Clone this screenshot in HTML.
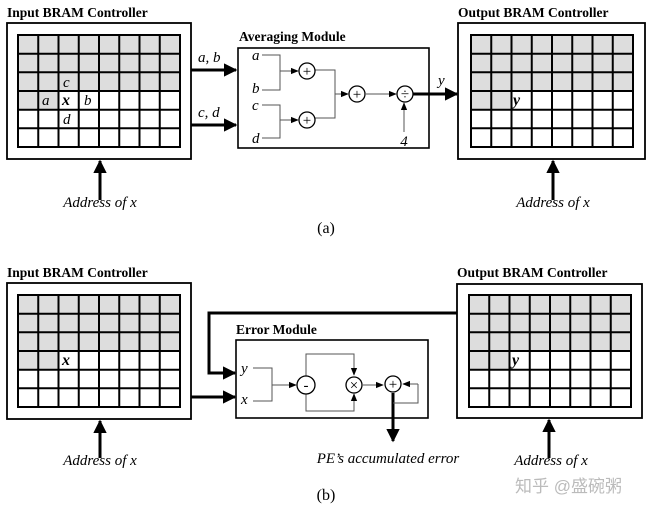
<!DOCTYPE html>
<html><head><meta charset="utf-8"><style>
body{margin:0;background:#fff}
svg text{font-family:"Liberation Serif",serif}
.t{font-weight:bold;font-size:13.5px}
.i{font-style:italic;font-size:15px}
</style></head><body>
<svg width="653" height="513" xmlns="http://www.w3.org/2000/svg">
<defs>
<marker id="ah" viewBox="0 0 10 10" refX="9" refY="5" markerWidth="4.5" markerHeight="4.5" orient="auto"><path d="M0,0L10,5L0,10z" fill="#000"/></marker>
<marker id="as" viewBox="0 0 10 10" refX="9" refY="5" markerWidth="8" markerHeight="8" orient="auto"><path d="M0,1L10,5L0,9z" fill="#000"/></marker>
<g id="grid">
<rect x="0" y="0" width="162" height="56" fill="#ddd"/>
<rect x="0" y="56" width="40.5" height="18.7" fill="#ddd"/>
<g stroke="#000" stroke-width="2" fill="none">
<rect x="0" y="0" width="162" height="112"/>
<path d="M20.25,0V112M40.5,0V112M60.75,0V112M81,0V112M101.25,0V112M121.5,0V112M141.75,0V112M0,18.7H162M0,37.3H162M0,56H162M0,74.7H162M0,93.3H162"/>
</g></g>
</defs>
<!-- (a) -->
<text x="7" y="17" class="t">Input BRAM Controller</text>
<rect x="7" y="23" width="184" height="136" fill="none" stroke="#000" stroke-width="1.8"/>
<use href="#grid" x="18" y="35"/>
<text x="63" y="87" class="i">c</text><text x="42" y="105" class="i">a</text>
<text x="62" y="105" font-size="16" font-weight="bold" font-style="italic">x</text>
<text x="84" y="105" class="i">b</text><text x="63" y="124" class="i">d</text>
<text x="198" y="62" class="i">a, b</text><text x="198" y="117" class="i">c, d</text>
<g stroke="#000" stroke-width="3" fill="none">
<line x1="191" y1="70" x2="236" y2="70" marker-end="url(#ah)"/>
<line x1="191" y1="125" x2="236" y2="125" marker-end="url(#ah)"/>
<line x1="100" y1="200" x2="100" y2="161" marker-end="url(#ah)"/>
<line x1="553" y1="200" x2="553" y2="161" marker-end="url(#ah)"/>
<line x1="413" y1="94" x2="457" y2="94" marker-end="url(#ah)"/>
</g>
<text x="100" y="207" class="i" text-anchor="middle">Address of x</text>
<text x="553" y="207" class="i" text-anchor="middle">Address of x</text>
<text x="239" y="41" class="t">Averaging Module</text>
<rect x="238" y="48" width="191" height="100" fill="none" stroke="#000" stroke-width="1.6"/>
<text x="252" y="60" class="i">a</text><text x="252" y="93" class="i">b</text>
<text x="252" y="110" class="i">c</text><text x="252" y="143" class="i">d</text>
<g stroke="#555" stroke-width="1" fill="none">
<path d="M262,55H280V90H262M262,105H280V138H262M313,70H335V118H313"/>
<line x1="280" y1="71" x2="298" y2="71" marker-end="url(#as)"/>
<line x1="280" y1="120" x2="298" y2="120" marker-end="url(#as)"/>
<line x1="335" y1="94" x2="348" y2="94" marker-end="url(#as)"/>
<line x1="366" y1="94" x2="396" y2="94" marker-end="url(#as)"/>
<line x1="404" y1="132" x2="404" y2="103" marker-end="url(#as)"/>
</g>
<g stroke="#000" stroke-width="1.3" fill="#fff">
<circle cx="307" cy="71" r="8"/><circle cx="307" cy="120" r="8"/><circle cx="357" cy="94" r="8"/><circle cx="405" cy="94" r="8"/>
</g>
<g font-size="15" text-anchor="middle" font-family="Liberation Sans">
<text x="307" y="76">+</text><text x="307" y="125">+</text><text x="357" y="99">+</text><text x="405" y="99">÷</text>
</g>
<text x="404" y="146" class="i" text-anchor="middle">4</text>
<text x="438" y="85" class="i">y</text>
<text x="458" y="17" class="t">Output BRAM Controller</text>
<rect x="458" y="23" width="187" height="136" fill="none" stroke="#000" stroke-width="1.8"/>
<use href="#grid" x="471" y="35"/>
<text x="513" y="105" font-size="16" font-weight="bold" font-style="italic">y</text>
<text x="326" y="233" font-size="16" text-anchor="middle">(a)</text>
<!-- (b) -->
<text x="7" y="277" class="t">Input BRAM Controller</text>
<rect x="7" y="283" width="184" height="136" fill="none" stroke="#000" stroke-width="1.8"/>
<use href="#grid" x="18" y="295"/>
<text x="62" y="365" font-size="16" font-weight="bold" font-style="italic">x</text>
<text x="457" y="277" class="t">Output BRAM Controller</text>
<rect x="457" y="284" width="185" height="134" fill="none" stroke="#000" stroke-width="1.8"/>
<use href="#grid" x="469" y="295"/>
<text x="512" y="365" font-size="16" font-weight="bold" font-style="italic">y</text>
<text x="236" y="334" class="t">Error Module</text>
<rect x="236" y="340" width="192" height="78" fill="none" stroke="#000" stroke-width="1.6"/>
<g stroke="#000" stroke-width="3" fill="none">
<path d="M457,313H209V373H222"/>
<line x1="215" y1="373" x2="235" y2="373" marker-end="url(#ah)"/>
<line x1="191" y1="397" x2="235" y2="397" marker-end="url(#ah)"/>
<line x1="393" y1="393" x2="393" y2="441" marker-end="url(#ah)"/>
<line x1="100" y1="458" x2="100" y2="421" marker-end="url(#ah)"/>
<line x1="549" y1="458" x2="549" y2="420" marker-end="url(#ah)"/>
</g>
<text x="241" y="373" class="i">y</text><text x="241" y="404" class="i">x</text>
<g stroke="#555" stroke-width="1" fill="none">
<path d="M253,368H272V401H253M306,376V354H354V364M306,394V411H354V402M418,384V403H393"/>
<line x1="272" y1="385" x2="296" y2="385" marker-end="url(#as)"/>
<line x1="354" y1="360" x2="354" y2="375" marker-end="url(#as)"/>
<line x1="354" y1="409" x2="354" y2="394" marker-end="url(#as)"/>
<line x1="363" y1="385" x2="383" y2="385" marker-end="url(#as)"/>
<line x1="418" y1="384" x2="403" y2="384" marker-end="url(#as)"/>
</g>
<g stroke="#000" stroke-width="1.3" fill="#fff">
<circle cx="306" cy="385" r="9"/><circle cx="354" cy="385" r="8"/><circle cx="393" cy="384" r="8"/>
</g>
<g font-size="15" text-anchor="middle" font-family="Liberation Sans">
<text x="306" y="390">-</text><text x="354" y="390">×</text><text x="393" y="389">+</text>
</g>
<text x="388" y="463" class="i" text-anchor="middle">PE’s accumulated error</text>
<text x="100" y="465" class="i" text-anchor="middle">Address of x</text>
<text x="551" y="465" class="i" text-anchor="middle">Address of x</text>
<text x="326" y="500" font-size="16" text-anchor="middle">(b)</text>
<text x="515" y="492" font-size="17" fill="#bbb" style="font-family:'Liberation Sans','Noto Sans CJK SC',sans-serif">知乎 @盛碗粥</text>
</svg>
</body></html>
